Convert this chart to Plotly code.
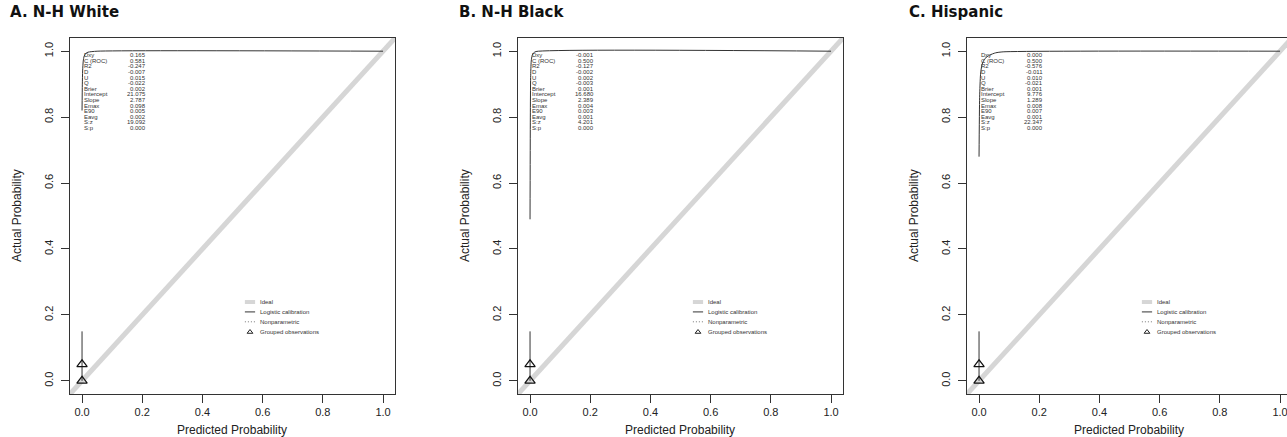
import plotly.graph_objects as go

# ---------------- data ----------------
panel_titles = ["A. N-H White", "B. N-H Black", "C. Hispanic"]

stat_labels = ["Dxy", "C (ROC)", "R2", "D", "U", "Q", "Brier", "Intercept",
               "Slope", "Emax", "E90", "Eavg", "S:z", "S:p"]
stats_white = [0.165, 0.581, -0.247, -0.007, 0.015, -0.022, 0.002, 21.075,
               2.787, 0.098, 0.005, 0.002, 19.092, 0.000]
stats_black = [-0.001, 0.500, -0.127, -0.002, 0.002, -0.003, 0.001, 16.680,
               2.389, 0.004, 0.003, 0.001, 4.201, 0.000]
stats_hisp = [0.000, 0.500, -0.576, -0.011, 0.010, -0.021, 0.001, 9.776,
              1.289, 0.008, 0.007, 0.001, 22.347, 0.000]

# logistic calibration curves
cal_x_white = [0.0, 0.001, 0.002, 0.004, 0.007, 0.012, 0.02, 0.05, 1.0]
cal_y_white = [0.82, 0.90, 0.94, 0.97, 0.985, 0.993, 0.997, 1.0, 1.0]
cal_x_black = [0.0, 0.001, 0.002, 0.004, 0.007, 0.012, 0.02, 1.0]
cal_y_black = [0.49, 0.80, 0.92, 0.97, 0.987, 0.995, 0.999, 1.0]
cal_x_hisp = [0.0, 0.002, 0.005, 0.01, 0.02, 0.035, 0.055, 0.08, 1.0]
cal_y_hisp = [0.68, 0.86, 0.93, 0.96, 0.978, 0.988, 0.995, 0.998, 1.0]

# spike histogram of predicted risk and grouped observations
spike_x = [0.0, 0.0]
spike_y = [0.0, 0.15]
grouped_x = [0.0, 0.0]
grouped_y = [0.05, 0.0]

ideal_xy = [-0.04, 1.04]
tick_vals = [0.0, 0.2, 0.4, 0.6, 0.8, 1.0]
tick_text = ["0.0", "0.2", "0.4", "0.6", "0.8", "1.0"]

legend_labels = ["Ideal", "Logistic calibration", "Nonparametric", "Grouped observations"]

# ---------------- layout constants ----------------
W, H = 1287, 437
left_px = [70, 518, 967]
px_per_unit_x = 301.0
plot_w_px = 325
top_px, bot_px = 38, 394
title_left_px = [8, 457, 907]

FONT = "Liberation Sans, Arial, Helvetica, sans-serif"
LINE = "#333333"

fig = go.Figure()

panels = [
    (stats_white, cal_x_white, cal_y_white),
    (stats_black, cal_x_black, cal_y_black),
    (stats_hisp, cal_x_hisp, cal_y_hisp),
]

annotations = []
for i, (stats, cx, cy) in enumerate(panels):
    n = "" if i == 0 else str(i + 1)
    xa, ya = "x" + n, "y" + n
    x0 = left_px[i] / W
    x1 = min(1.0, (left_px[i] + plot_w_px) / W)
    width_units = (min(W, left_px[i] + plot_w_px) - left_px[i]) / px_per_unit_x
    xr = [-0.04, -0.04 + width_units]
    ydom = [1 - bot_px / H, 1 - top_px / H]
    axkey = "xaxis" + n
    aykey = "yaxis" + n
    fig.update_layout(**{
        axkey: dict(domain=[x0, x1], range=xr, anchor=ya, showgrid=False, zeroline=False,
                    showline=True, linecolor=LINE, linewidth=1, mirror=True,
                    ticks="outside", ticklen=8, tickcolor=LINE, tickwidth=1,
                    tickvals=tick_vals, ticktext=tick_text, ticklabeloverflow="allow",
                    tickfont=dict(family=FONT, size=11, color="#222"), fixedrange=True),
        aykey: dict(domain=ydom, range=[-0.04, 1.04], anchor=xa, showgrid=False, zeroline=False,
                    showline=True, linecolor=LINE, linewidth=1, mirror=(i < 2),
                    ticks="outside", ticklen=8, tickcolor=LINE, tickwidth=1,
                    tickvals=tick_vals, ticktext=tick_text, tickangle=-90,
                    ticklabelstandoff=4,
                    tickfont=dict(family=FONT, size=11, color="#222"), fixedrange=True),
    })

    # ideal line
    fig.add_trace(go.Scatter(x=ideal_xy, y=ideal_xy, mode="lines", xaxis=xa, yaxis=ya,
                             line=dict(color="#d6d6d6", width=5), showlegend=False, hoverinfo="skip"))
    # logistic calibration
    fig.add_trace(go.Scatter(x=cx, y=cy, mode="lines", xaxis=xa, yaxis=ya,
                             line=dict(color=LINE, width=1, shape="spline", smoothing=0.6),
                             showlegend=False, hoverinfo="skip"))
    # spike
    fig.add_trace(go.Scatter(x=spike_x, y=spike_y, mode="lines", xaxis=xa, yaxis=ya,
                             line=dict(color=LINE, width=1), showlegend=False, hoverinfo="skip"))
    # grouped observations
    fig.add_trace(go.Scatter(x=grouped_x, y=grouped_y, mode="markers", xaxis=xa, yaxis=ya,
                             marker=dict(symbol="triangle-up-open", size=9, color="#111",
                                         line=dict(width=1.2, color="#111")),
                             showlegend=False, hoverinfo="skip"))

    # legend samples
    lg_y = [0.239, 0.209, 0.179, 0.148]
    lx0, lx1, ltx = 0.541, 0.575, 0.585
    fig.add_trace(go.Scatter(x=[lx0, lx1], y=[lg_y[0], lg_y[0]], mode="lines", xaxis=xa, yaxis=ya,
                             line=dict(color="#d6d6d6", width=4), showlegend=False, hoverinfo="skip"))
    fig.add_trace(go.Scatter(x=[lx0, lx1], y=[lg_y[1], lg_y[1]], mode="lines", xaxis=xa, yaxis=ya,
                             line=dict(color=LINE, width=1), showlegend=False, hoverinfo="skip"))
    fig.add_trace(go.Scatter(x=[lx0, lx1], y=[lg_y[2], lg_y[2]], mode="lines", xaxis=xa, yaxis=ya,
                             line=dict(color="#777", width=1, dash="1px,2px"), showlegend=False,
                             hoverinfo="skip"))
    fig.add_trace(go.Scatter(x=[(lx0 + lx1) / 2], y=[lg_y[3]], mode="markers", xaxis=xa, yaxis=ya,
                             marker=dict(symbol="triangle-up-open", size=5, color="#222",
                                         line=dict(width=1, color="#222")),
                             showlegend=False, hoverinfo="skip"))
    for k, lab in enumerate(legend_labels):
        annotations.append(dict(x=ltx, y=lg_y[k], xref=xa, yref=ya, text=lab, showarrow=False,
                                xanchor="left", yanchor="middle",
                                font=dict(family=FONT, size=6, color="#333")))

    # statistics text block
    for k, (lab, val) in enumerate(zip(stat_labels, stats)):
        yk = 0.988 - k * 0.0170
        annotations.append(dict(x=0.0, y=yk, xref=xa, yref=ya, text=lab, showarrow=False,
                                xanchor="left", yanchor="middle",
                                font=dict(family=FONT, size=6, color="#333")))
        annotations.append(dict(x=0.218, y=yk, xref=xa, yref=ya, text=f"{val:.3f}", showarrow=False,
                                xanchor="right", yanchor="middle",
                                font=dict(family=FONT, size=6, color="#333")))

    # axis titles
    annotations.append(dict(x=(left_px[i] + 162) / W, y=1 - 430 / H, xref="paper", yref="paper",
                            text="Predicted Probability", showarrow=False,
                            xanchor="center", yanchor="middle",
                            font=dict(family=FONT, size=12, color="#222")))
    annotations.append(dict(x=(left_px[i] - 53) / W, y=1 - 216 / H, xref="paper", yref="paper",
                            text="Actual Probability", showarrow=False, textangle=-90,
                            xanchor="center", yanchor="middle",
                            font=dict(family=FONT, size=12, color="#222")))
    # panel title
    annotations.append(dict(x=title_left_px[i] / W, y=1 - 12 / H, xref="paper", yref="paper",
                            text="<b>" + panel_titles[i] + "</b>", showarrow=False,
                            xanchor="left", yanchor="middle",
                            font=dict(family="DejaVu Sans, sans-serif", size=15, color="#111")))

fig.update_layout(width=W, height=H, margin=dict(l=0, r=0, t=0, b=0),
                  paper_bgcolor="white", plot_bgcolor="white",
                  annotations=annotations, showlegend=False)

fig.write_html("out.html", config={"displayModeBar": False},
               post_script="document.body.style.margin='0px';document.body.style.overflow='hidden';")
